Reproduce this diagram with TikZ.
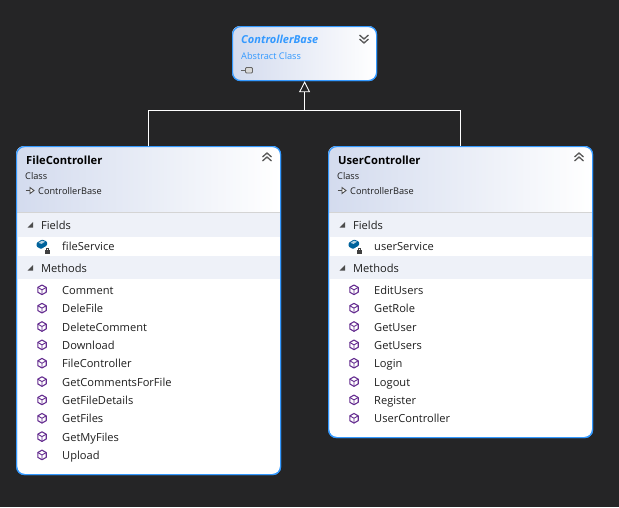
\documentclass[tikz,border=0pt]{standalone}
\usepackage{fontspec}
\setmainfont{Open Sans}
\usetikzlibrary{arrows.meta}
\definecolor{bgdark}{HTML}{252526}
\definecolor{edgeblue}{HTML}{3399FF}
\definecolor{headleft}{HTML}{D3DBEE}
\definecolor{bandc}{HTML}{EEF1F8}
\definecolor{sepc}{HTML}{D4D4D4}
\definecolor{txtc}{HTML}{1E1E1E}
\definecolor{methc}{HTML}{652D90}
\definecolor{fieldc}{HTML}{00639C}
\definecolor{chev}{HTML}{5A5A5A}
\tikzset{
  x=1pt,y=-1pt,
  boxshape/.style={draw=edgeblue,line width=1.2pt,rounded corners=8pt,inner sep=0pt,anchor=north west},
  titletxt/.style={font=\fontsize{11.2}{12}\selectfont\bfseries,text=black,anchor=base west,inner sep=0pt},
  smalltxt/.style={font=\fontsize{9.2}{10}\selectfont,text=txtc,anchor=base west,inner sep=0pt},
  rowtxt/.style={font=\fontsize{11.1}{12}\selectfont,text=txtc,anchor=base west,inner sep=0pt},
  conn/.style={draw=white,line width=0.9pt},
  pics/methodicon/.style={code={
    \draw[methc,line width=1.1pt,line join=round,fill=white]
      (0,-4.8)--(4.2,-2.4)--(4.2,2.4)--(0,4.8)--(-4.2,2.4)--(-4.2,-2.4)--cycle;
    \draw[methc,line width=0.9pt] (-4.2,-2.4)--(0,0)--(4.2,-2.4) (0,0)--(0,4.8);
  }},
  pics/fieldicon/.style={code={
    \fill[fieldc,rounded corners=1pt] (-5.5,-1.5)--(0,-5)--(5,-3)--(5,1)--(-1,4.5)--(-5.5,2)--cycle;
    \fill[white!70!fieldc] (-3.5,-1.6)--(0,-3.8)--(3,-2.8)--(-0.5,-0.6)--cycle;
    \fill[white] (1.5,2.5) rectangle (9,10);
    \fill[black!75] (3,5.5) rectangle (7.5,9.5);
    \draw[black!75,line width=0.8pt] (3.9,5.5)--(3.9,3.8)--(6.6,3.8)--(6.6,5.5);
  }},
  pics/inhericon/.style={code={
    \draw[black!70,line width=0.9pt] (-4.5,0)--(3,0);
    \draw[black!70,line width=0.9pt,fill=white] (0,-3)--(4,0)--(0,3)--cycle;
  }},
  pics/chevup/.style={code={
    \draw[chev,line width=1.3pt] (-4.5,0)--(0,-4)--(4.5,0) (-4.5,4)--(0,0)--(4.5,4);
  }},
  pics/chevdown/.style={code={
    \draw[chev,line width=1.3pt] (-4.5,-4)--(0,0)--(4.5,-4) (-4.5,0)--(0,4)--(4.5,0);
  }},
  pics/expander/.style={code={
    \fill[black!70] (3,-3)--(3,2.5)--(-2.5,2.5)--cycle;
  }}
}
\newcommand{\classbox}[6]{% name, x, height, title, field, method list
  \node[boxshape,fill=white,minimum width=264pt,minimum height=#3pt] (#1) at (#2,146) {};
  \begin{scope}
    \clip[rounded corners=8pt] (#2,146) rectangle ++(264,#3);
    \shade[left color=headleft,right color=white] (#2,146) rectangle ++(264,66);
    \fill[sepc] (#2,212) rectangle ++(264,1);
    \fill[bandc] (#2,213) rectangle ++(264,24);
    \fill[bandc] (#2,256) rectangle ++(264,23);
  \end{scope}
  \node[boxshape,minimum width=264pt,minimum height=#3pt] at (#2,146) {};
  \node[titletxt] (#1title) at (#2+10,164) {#4};
  \node[smalltxt] (#1kind) at (#2+9,179) {Class};
  \pic at (#2+14,190.5) {inhericon};
  \node[smalltxt] (#1parent) at (#2+22,194.5) {ControllerBase};
  \pic at (#2+251,157) {chevup};
  \pic at (#2+14,225) {expander};
  \node[rowtxt] (#1fields) at (#2+25,229.5) {Fields};
  \pic at (#2+26,244.5) {fieldicon};
  \node[rowtxt] (#1field) at (#2+46,250.5) {#5};
  \pic at (#2+14,268) {expander};
  \node[rowtxt] (#1methods) at (#2+25,272.5) {Methods};
  \foreach \lab [count=\i from 0] in {#6} {
    \pgfmathsetmacro{\ry}{289.8+18.35*\i}
    \pic at (#2+26,\ry) {methodicon};
    \node[rowtxt] (#1m\i) at (#2+46,\ry+4.6) {\lab};
  }
}
\begin{document}
\begin{tikzpicture}
\useasboundingbox (0,0) rectangle (619,507);
\fill[bgdark] (0,0) rectangle (619,507);
% base class
\node[boxshape,fill=white,minimum width=144pt,minimum height=54pt] (base) at (232,26) {};
\begin{scope}
  \clip[rounded corners=8pt] (232,26) rectangle ++(144,54);
  \shade[left color=headleft,right color=white] (232,26) rectangle ++(144,54);
\end{scope}
\node[boxshape,minimum width=144pt,minimum height=54pt] at (232,26) {};
\node[font=\fontsize{11}{12}\selectfont\bfseries\itshape,text=edgeblue,anchor=base west,inner sep=0pt] (basetitle) at (241,43.5) {ControllerBase};
\node[smalltxt,text=edgeblue] (basekind) at (241,59) {Abstract Class};
\pic at (364,39) {chevdown};
\draw[black!60,line width=0.8pt,fill=white!85!black,rounded corners=1pt] (245.5,67.5) rectangle (252.5,73);
\draw[black!60,line width=0.8pt] (241,70.5)--(245.5,70.5);
% classes
\classbox{file}{16}{328}{FileController}{fileService}{Comment,DeleFile,DeleteComment,Download,FileController,GetCommentsForFile,GetFileDetails,GetFiles,GetMyFiles,Upload}
\classbox{user}{328}{291}{UserController}{userService}{EditUsers,GetRole,GetUser,GetUsers,Login,Logout,Register,UserController}
% inheritance
\coordinate (bus) at (base.south |- 0,110);
\draw[conn] (file.north) |- (bus);
\draw[conn] (user.north) |- (bus);
\draw[conn,-{Triangle[open,length=11pt,width=11pt,line width=0.9pt]}] (bus) -- (base.south);
\end{tikzpicture}
\end{document}
